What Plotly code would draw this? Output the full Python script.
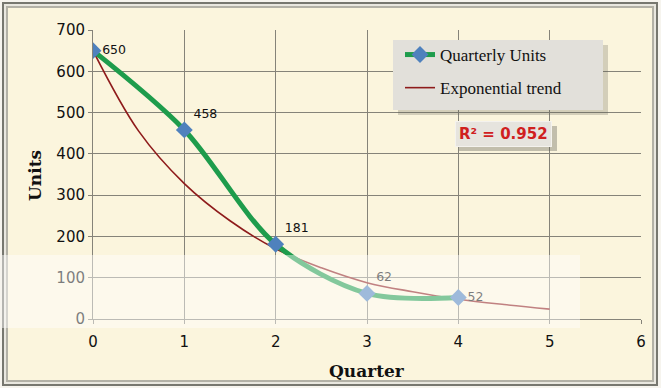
import plotly.graph_objects as go

quarters = [0, 1, 2, 3, 4]
units = [650, 458, 181, 62, 52]
unit_labels = ["650", "458", "181", "62", "52"]
label_pos = ["middle right", "top right", "top right", "top right", "middle right"]

trend_x = [0, 0.5, 1, 1.5, 2, 2.5, 3, 3.5, 4, 4.5, 5]
trend_y = [650, 455, 328, 238, 170, 124, 88, 66, 48, 35, 24]

x_ticks = [0, 1, 2, 3, 4, 5, 6]
y_ticks = [0, 100, 200, 300, 400, 500, 600, 700]
r2_text = "R² = 0.952"

W, H = 661, 388
L, R, T, B = 93, 641, 30, 319


def px(p):
    return (p - L) / (R - L)


def py(p):
    return (B - p) / (B - T)


fig = go.Figure()

fig.add_trace(go.Scatter(
    x=trend_x, y=trend_y, mode="lines", name="Exponential trend",
    line=dict(color="#8E1B1B", width=1.6, shape="spline", smoothing=1),
    legendgroup="b", legendrank=2, hoverinfo="skip",
))
fig.add_trace(go.Scatter(
    x=quarters, y=units, mode="lines+markers+text", name="Quarterly Units",
    line=dict(color="#1E9C4C", width=5, shape="spline", smoothing=0.9),
    marker=dict(symbol="diamond", size=13, color="#4F81BD"),
    text=unit_labels, textposition=label_pos,
    textfont=dict(family="DejaVu Sans", size=12.5, color="#111111"),
    legendgroup="a", legendrank=1,
))

shapes = []
# frame bevel
shapes.append(dict(type="rect", xref="paper", yref="paper", layer="below",
                   x0=px(2), x1=px(658), y0=py(386), y1=py(2),
                   fillcolor="#77776F", line=dict(width=0)))
shapes.append(dict(type="rect", xref="paper", yref="paper", layer="below",
                   x0=px(4), x1=px(656), y0=py(384), y1=py(4),
                   fillcolor="#E9E7DF", line=dict(width=0)))
shapes.append(dict(type="rect", xref="paper", yref="paper", layer="below",
                   x0=px(6), x1=px(654), y0=py(382), y1=py(6),
                   fillcolor="#B3B1A6", line=dict(width=0)))
shapes.append(dict(type="rect", xref="paper", yref="paper", layer="below",
                   x0=px(8), x1=px(652), y0=py(380), y1=py(8),
                   fillcolor="#FBF5DD", line=dict(width=0)))
# legend box with shadow
shapes.append(dict(type="rect", xref="paper", yref="paper", layer="above",
                   x0=px(398), x1=px(608), y0=py(115), y1=py(45),
                   fillcolor="rgba(90,90,80,0.25)", line=dict(width=0)))
shapes.append(dict(type="rect", xref="paper", yref="paper", layer="above",
                   x0=px(393), x1=px(603), y0=py(110), y1=py(40),
                   fillcolor="#E2E0DA", line=dict(width=0)))
# R2 box shadow
shapes.append(dict(type="rect", xref="paper", yref="paper", layer="above",
                   x0=px(459), x1=px(557), y0=py(151), y1=py(126),
                   fillcolor="rgba(90,90,80,0.35)", line=dict(width=0)))
# washed-out band
shapes.append(dict(type="rect", xref="paper", yref="paper", layer="above",
                   x0=px(2), x1=px(580), y0=py(328), y1=py(255),
                   fillcolor="rgba(255,255,255,0.45)", line=dict(width=0)))

annotations = [
    dict(text="<b>" + r2_text + "</b>", xref="paper", yref="paper",
         x=px(503), y=py(134), xanchor="center", yanchor="middle",
         showarrow=False, font=dict(family="DejaVu Sans", size=15, color="#D0201E"),
         bgcolor="#E6E4DE", bordercolor="#F4F2EE", borderwidth=1, borderpad=3),
    dict(text="<b>Units</b>", xref="paper", yref="paper",
         x=px(35), y=py(176), xanchor="center", yanchor="middle", textangle=-90,
         showarrow=False, font=dict(family="DejaVu Serif", size=17, color="#111111")),
    dict(text="<b>Quarter</b>", xref="paper", yref="paper",
         x=px(367), y=py(371), xanchor="center", yanchor="middle",
         showarrow=False, font=dict(family="DejaVu Serif", size=17, color="#111111")),
]

grid = "#858379"
fig.update_layout(
    width=W, height=H,
    margin=dict(l=L, r=W - R, t=T, b=H - B),
    paper_bgcolor="#F6F4EE",
    plot_bgcolor="rgba(0,0,0,0)",
    shapes=shapes,
    annotations=annotations,
    showlegend=True,
    legend=dict(x=px(400), y=py(37), xanchor="left", yanchor="top",
                bgcolor="rgba(0,0,0,0)", borderwidth=0,
                font=dict(family="Liberation Serif", size=17, color="#111111"),
                tracegroupgap=8, traceorder="grouped"),
    xaxis=dict(range=[0, 6], tickvals=x_ticks, ticktext=[str(v) for v in x_ticks],
               showgrid=True, gridcolor=grid, gridwidth=1,
               showline=True, linecolor=grid, linewidth=1, zeroline=False,
               ticks="outside", ticklen=4, tickcolor=grid, ticklabelstandoff=5,
               tickfont=dict(family="DejaVu Sans", size=15, color="#111111"),
               fixedrange=True),
    yaxis=dict(range=[0, 700], tickvals=y_ticks, ticktext=[str(v) for v in y_ticks],
               showgrid=True, gridcolor=grid, gridwidth=1,
               showline=True, linecolor=grid, linewidth=1, zeroline=False,
               ticks="outside", ticklen=4, tickcolor=grid,
               tickfont=dict(family="DejaVu Sans", size=15, color="#111111"),
               fixedrange=True),
)

fig.write_html("out.html", config={"displayModeBar": False},
               post_script="document.body.style.margin='0';document.body.style.overflow='hidden';")
